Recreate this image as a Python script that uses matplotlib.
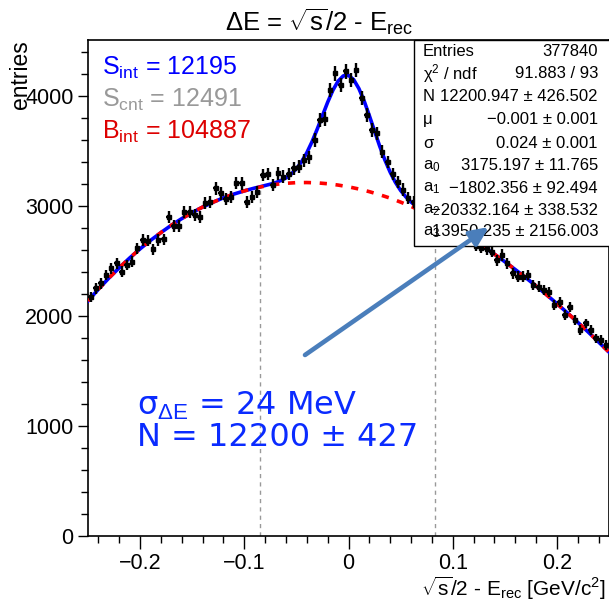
import numpy as np
import matplotlib
matplotlib.use("Agg")
import matplotlib.pyplot as plt
from matplotlib.patches import Rectangle

plt.rcParams['font.family'] = ['Liberation Sans', 'DejaVu Sans']
plt.rcParams['mathtext.fontset'] = 'custom'
plt.rcParams['mathtext.rm'] = 'Liberation Sans'
plt.rcParams['mathtext.it'] = 'Liberation Sans:italic'
plt.rcParams['mathtext.bf'] = 'Liberation Sans:bold'

# histogram: 100 bins of 0.005 between -0.25 and 0.25
bin_centers = np.linspace(-0.2475, 0.2475, 100)
counts = [2175, 2252, 2297, 2373, 2433, 2479, 2403, 2464, 2494, 2615,
          2691, 2685, 2606, 2691, 2697, 2903, 2818, 2818, 2948, 2948,
          2918, 2903, 3030, 3039, 3161, 3115, 3061, 3079, 3212, 3206,
          3039, 3085, 3130, 3282, 3291, 3191, 3297, 3267, 3291, 3343,
          3357, 3418, 3445, 3600, 3782, 3790, 4055, 4206, 4100, 4224,
          4145, 4236, 3979, 3827, 3691, 3661, 3494, 3400, 3290, 3220,
          3150, 3070, 3035, 2968, 2979, 2901, 2930, 2852, 2880, 2799,
          2830, 2741, 2760, 2680, 2640, 2620, 2606, 2585, 2509, 2555,
          2479, 2388, 2358, 2358, 2373, 2282, 2267, 2236, 2221, 2100,
          2130, 2009, 2085, 1964, 1873, 1933, 1873, 1797, 1782, 1736]

# background fit (red) sampled every 0.01
bkg_x = np.round(np.arange(-0.25, 0.2501, 0.01), 3)
bkg_fit = [2137, 2244, 2345, 2439, 2528, 2611, 2688, 2759, 2826, 2886,
           2941, 2991, 3035, 3075, 3109, 3138, 3163, 3182, 3197, 3207,
           3213, 3214, 3211, 3203, 3191, 3175, 3155, 3131, 3103, 3072,
           3036, 2997, 2954, 2908, 2859, 2806, 2750, 2690, 2628, 2563,
           2494, 2423, 2350, 2273, 2194, 2113, 2029, 1943, 1855, 1764, 1672]

# total fit (blue) in the peak region, every 0.005
peak_x = np.round(np.arange(-0.1, 0.1001, 0.005), 3)
tot_fit = [3138, 3151, 3164, 3175, 3187, 3199, 3213, 3232, 3256, 3292,
           3339, 3403, 3485, 3585, 3700, 3822, 3944, 4053, 4136, 4184,
           4188, 4149, 4068, 3956, 3822, 3682, 3543, 3417, 3308, 3216,
           3142, 3084, 3037, 2999, 2967, 2938, 2911, 2886, 2860, 2833, 2806]

# signal window (dashed grey lines) and their heights
window_x = [-0.085, 0.083]
window_top = [3175, 2895]

stats_labels = ['Entries', '\u03c7$^2$ / ndf', 'N', '\u03bc', '\u03c3',
                'a$_0$', 'a$_1$', 'a$_2$', 'a$_3$']
stats_values = ['377840', '91.883 / 93', '12200.947 \u00b1 426.502',
                '\u22120.001 \u00b1 0.001', '0.024 \u00b1 0.001',
                '3175.197 \u00b1 11.765', '\u22121802.356 \u00b1 92.494',
                '\u221220332.164 \u00b1 338.532', '13950.235 \u00b1 2156.003']

W, H = 609, 601


def fx(px):
    return px / W


def fy(py):
    return 1 - py / H


fig = plt.figure(figsize=(W / 100, H / 100), dpi=100)
ax = fig.add_axes([fx(88), fy(536), (609 - 88) / W, (536 - 40) / H])

# curves
left = bkg_x < -0.1
right = bkg_x > 0.1
blue_x = np.concatenate([bkg_x[left], peak_x, bkg_x[right]])
blue_y = np.concatenate([np.array(bkg_fit)[left], tot_fit, np.array(bkg_fit)[right]])
ax.plot(blue_x, blue_y, color='#0000ff', lw=2.6, zorder=3)
ax.plot(bkg_x, bkg_fit, color='#ff0000', lw=2.6, dashes=(2.0, 2.4), zorder=4)

for x, top in zip(window_x, window_top):
    ax.plot([x, x], [0, top], color='#999999', lw=1, dashes=(3, 3), zorder=1)

ax.errorbar(bin_centers, counts, yerr=np.sqrt(counts), xerr=0.0025,
            fmt='s', ms=2.5, color='black', ecolor='black', elinewidth=1.7,
            capsize=0, zorder=5)

ax.set_xlim(-0.25, 0.25)
ax.set_ylim(0, 4510)
ax.set_xticks([-0.2, -0.1, 0, 0.1, 0.2])
ax.set_xticklabels(['\u22120.2', '\u22120.1', '0', '0.1', '0.2'])
ax.set_xticks(np.arange(-0.24, 0.25, 0.02), minor=True)
ax.set_yticks([0, 1000, 2000, 3000, 4000])
ax.set_yticks(np.arange(0, 4501, 200), minor=True)
ax.tick_params(axis='both', which='major', labelsize=15.5, length=9, width=1,
               direction='out')
ax.tick_params(axis='both', which='minor', length=5, width=1, direction='out')
ax.tick_params(axis='y', which='major', length=7)
for s in ax.spines.values():
    s.set_linewidth(1.2)

# titles
fig.text(fx(319), fy(22), r'$\Delta$E = $\sqrt{\rm s}$/2 - E$_{\rm rec}$',
         ha='center', va='center', fontsize=18.5)
fig.text(fx(20), fy(40), 'entries', rotation=90, ha='center', va='top',
         fontsize=16.5)
fig.text(fx(606), fy(588), r'$\sqrt{\rm s}$/2 - E$_{\rm rec}$ [GeV/c$^2$]',
         ha='right', va='center', fontsize=15)

# integrals
ax.text(fx(102), fy(68), r'S$_{\rm int}$ = 12195', transform=fig.transFigure,
        color='#0000ff', fontsize=18, va='center', zorder=6)
ax.text(fx(102), fy(100), r'S$_{\rm cnt}$ = 12491', transform=fig.transFigure,
        color='#999999', fontsize=18, va='center', zorder=6)
ax.text(fx(102), fy(132), r'B$_{\rm int}$ = 104887', transform=fig.transFigure,
        color='#dd0000', fontsize=18, va='center', zorder=6)

# stat box
box = Rectangle((fx(414), fy(246)), (612 - 414) / W, (246 - 40) / H,
                transform=fig.transFigure, facecolor='white', edgecolor='black',
                lw=1, zorder=10, clip_on=False)
ax.add_patch(box)
row_y = [51.7, 73.5, 96.5, 119.5, 143, 166, 188.5, 210.5, 232]
for lab, val, ry in zip(stats_labels, stats_values, row_y):
    ax.text(fx(423), fy(ry), lab, transform=fig.transFigure, fontsize=12,
            ha='left', va='center', zorder=11, clip_on=False)
    ax.text(fx(598), fy(ry), val, transform=fig.transFigure, fontsize=12,
            ha='right', va='center', zorder=11, clip_on=False)

# annotation
ax.annotate('', xy=(fx(489), fy(227)), xytext=(fx(305), fy(355)),
            xycoords='figure fraction', textcoords='figure fraction',
            arrowprops=dict(arrowstyle='-|>,head_length=1.1,head_width=0.5',
                            color='#4a7ebb', lw=3.3, shrinkA=0, shrinkB=0),
            zorder=12, annotation_clip=False)
fig.text(fx(137), fy(406), '\u03c3$_{\\Delta\\rm E}$ = 24 MeV', color='#0a2bff',
         fontsize=23, va='center', family=['DejaVu Sans'])
fig.text(fx(137), fy(438), 'N = 12200 \u00b1 427', color='#0a2bff',
         fontsize=23, va='center', family=['DejaVu Sans'])

fig.savefig('out.png', dpi=100)
